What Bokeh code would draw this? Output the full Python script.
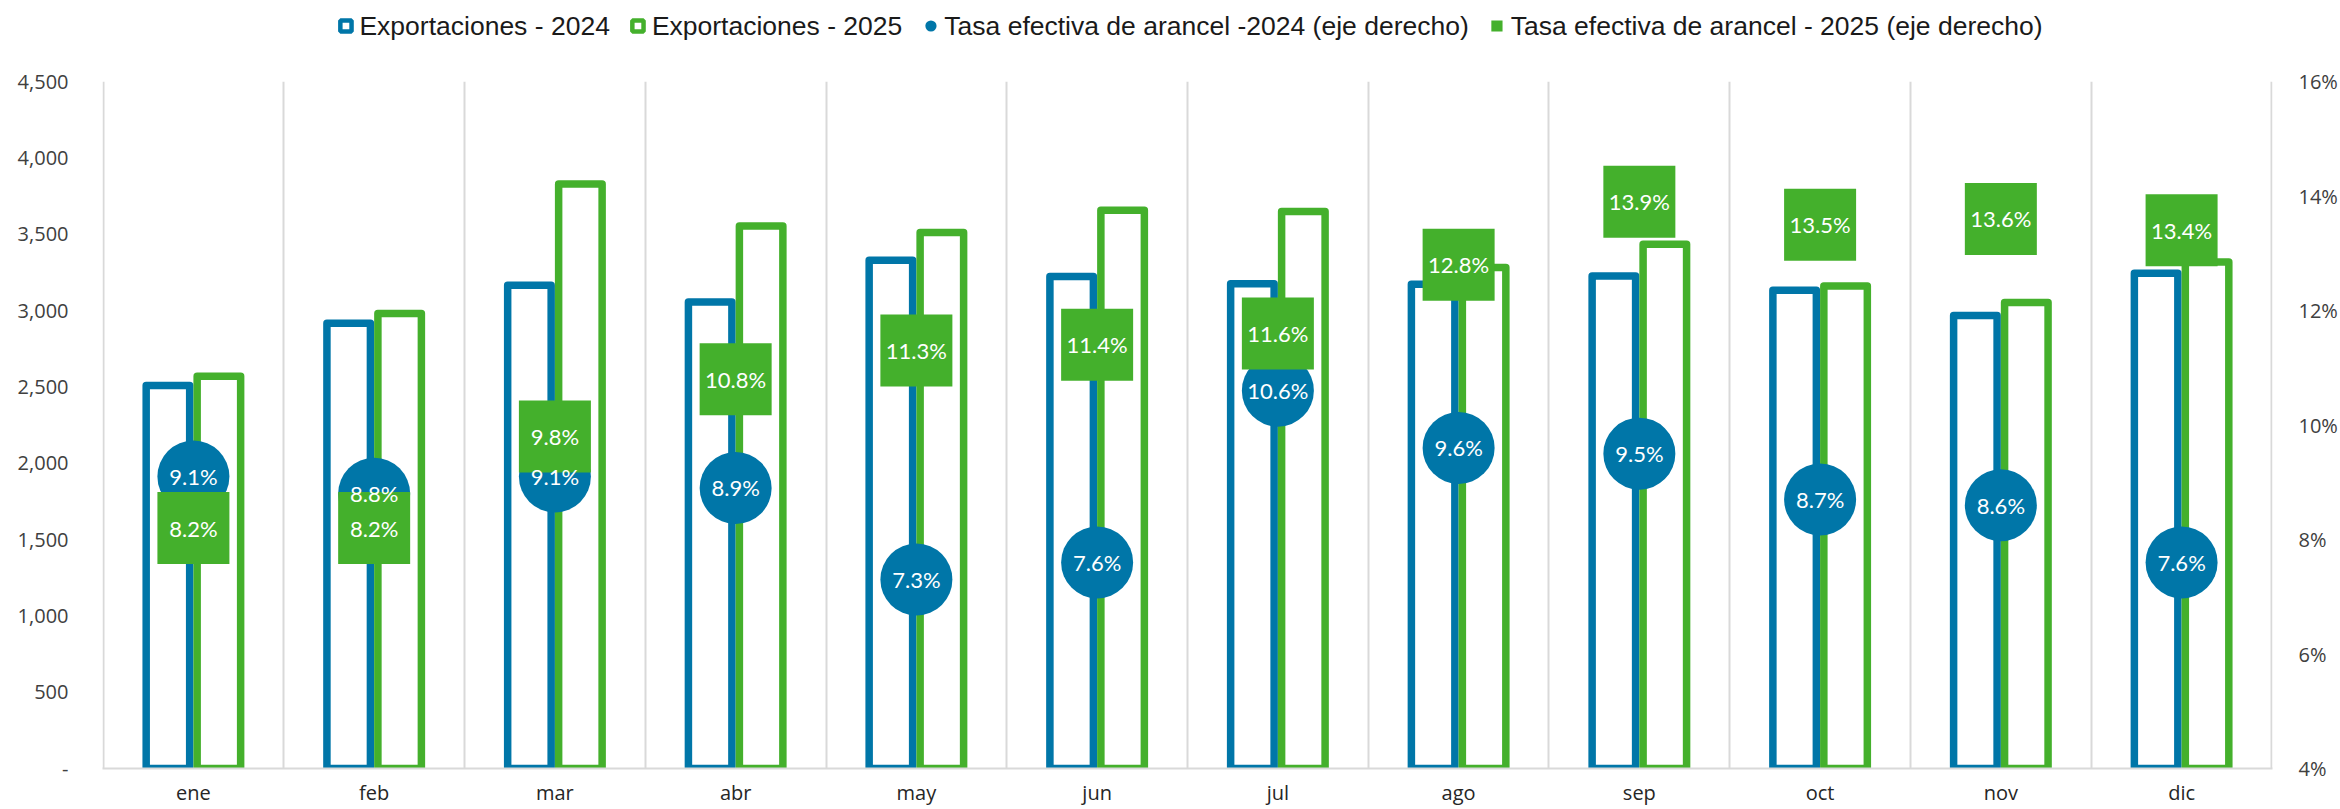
from bokeh.plotting import figure
from bokeh.layouts import column
from bokeh.models import (ColumnDataSource, Range1d, LinearAxis, FixedTicker,
                          NumeralTickFormatter, PrintfTickFormatter, Legend, LegendItem)
from bokeh.transform import dodge
from bokeh.core.properties import value
from bokeh.embed import file_html
from bokeh.resources import INLINE

# ---- data ----
months = ["ene", "feb", "mar", "abr", "may", "jun", "jul", "ago", "sep", "oct", "nov", "dic"]
exp_2024 = [2509, 2916, 3165, 3056, 3329, 3222, 3176, 3172, 3226, 3132, 2968, 3244]
exp_2025 = [2570, 2981, 3828, 3554, 3511, 3657, 3649, 3281, 3434, 3161, 3052, 3318]
tasa_2024 = [9.1, 8.8, 9.1, 8.9, 7.3, 7.6, 10.6, 9.6, 9.5, 8.7, 8.6, 7.6]
tasa_2025 = [8.2, 8.2, 9.8, 10.8, 11.3, 11.4, 11.6, 12.8, 13.9, 13.5, 13.6, 13.4]
left_ticks = [0, 500, 1000, 1500, 2000, 2500, 3000, 3500, 4000, 4500]
right_ticks = [4, 6, 8, 10, 12, 14, 16]
legend_labels = ["Exportaciones - 2024", "Exportaciones - 2025",
                 "Tasa efectiva de arancel -2024 (eje derecho)",
                 "Tasa efectiva de arancel - 2025 (eje derecho)"]

BLUE = "#0076A8"
GREEN = "#44B02C"
GRID = "#d9d9d9"
W = 2340
NAN = float("nan")

xs = [i + 0.5 for i in range(len(months))]
src = ColumnDataSource(dict(
    x=xs, month=months, e24=exp_2024, e25=exp_2025,
    t24=tasa_2024, t25=tasa_2025,
    l24=[f"{v:.1f}%" for v in tasa_2024],
    l25=[f"{v:.1f}%" for v in tasa_2025],
))

# ---------------- legend strip ----------------
lg = figure(width=W, height=51, x_range=Range1d(0, 1), y_range=Range1d(0, 1),
            output_backend="svg", toolbar_location=None,
            min_border_left=4, min_border_right=0, min_border_top=0, min_border_bottom=0)
lg.axis.visible = False
lg.grid.visible = False
lg.outline_line_color = None
# legend-only proxies (NaN points are not drawn; only their legend swatches show)
lr1 = lg.scatter(x=[NAN], y=[NAN], marker="square", fill_color="white", line_color=BLUE, line_width=4.5)
lr2 = lg.scatter(x=[NAN], y=[NAN], marker="square", fill_color="white", line_color=GREEN, line_width=4.5)
lr3 = lg.scatter(x=[NAN], y=[NAN], marker="circle", fill_color=BLUE, line_color=None)
lr4 = lg.scatter(x=[NAN], y=[NAN], marker="square", fill_color=GREEN, line_color=None)
legend = Legend(items=[LegendItem(label=legend_labels[0], renderers=[lr1]),
                       LegendItem(label=legend_labels[1], renderers=[lr2]),
                       LegendItem(label=legend_labels[2], renderers=[lr3]),
                       LegendItem(label=legend_labels[3], renderers=[lr4])],
                orientation="horizontal", location="center",
                glyph_width=28, glyph_height=28, label_height=28, label_standoff=0,
                spacing=14, padding=0, margin=0, border_line_color=None,
                background_fill_alpha=0,
                label_text_font="Liberation Sans", label_text_font_size="26.5px",
                label_text_color="#1a1a1a")
lg.add_layout(legend)

# ---------------- main chart ----------------
p = figure(width=W, height=758, x_range=Range1d(-0.003, len(months) + 0.003),
           y_range=Range1d(left_ticks[0], left_ticks[-1]),
           output_backend="svg", toolbar_location=None,
           min_border_left=102, min_border_right=68, min_border_top=30, min_border_bottom=41)
p.extra_y_ranges = {"rate": Range1d(right_ticks[0], right_ticks[-1])}
p.outline_line_color = None
p.background_fill_color = "white"
p.border_fill_color = "white"

# grid: vertical lines at category boundaries
p.xgrid.ticker = FixedTicker(ticks=list(range(len(months) + 1)))
p.xgrid.grid_line_color = GRID
p.xgrid.grid_line_width = 2
p.ygrid.grid_line_color = None

# bars
bw = 0.2406
off = 0.141
p.vbar(x=dodge("x", -off, range=p.x_range), top="e24", bottom=0, width=bw, source=src,
       fill_color="white", line_color=BLUE, line_width=7.5, line_join="round")
p.vbar(x=dodge("x", off, range=p.x_range), top="e25", bottom=0, width=bw, source=src,
       fill_color="white", line_color=GREEN, line_width=7.5, line_join="round")

# markers
p.scatter(x="x", y="t24", marker="circle", size=72, fill_color=BLUE, line_color=None,
          source=src, y_range_name="rate")
p.scatter(x="x", y="t25", marker="square", size=72, fill_color=GREEN, line_color=None,
          source=src, y_range_name="rate")

# labels
for col, ycol in (("l24", "t24"), ("l25", "t25")):
    p.text(x="x", y=ycol, text=col, source=src, y_range_name="rate",
           text_color="white", text_font=value("Lato"), text_font_size="22px",
           text_align="center", text_baseline="middle")

# axes
yl = p.yaxis[0]
yl.ticker = FixedTicker(ticks=left_ticks)
yl.formatter = NumeralTickFormatter(format="0,0")
yl.major_label_overrides = {0: "-"}
yl.major_label_standoff = 34

yr = LinearAxis(y_range_name="rate", ticker=FixedTicker(ticks=right_ticks),
                formatter=PrintfTickFormatter(format="%d%%"))
yr.major_label_standoff = 26
p.add_layout(yr, "right")

for ax in (yl, yr):
    ax.axis_line_color = None
    ax.major_tick_line_color = None
    ax.minor_tick_line_color = None
    ax.major_tick_out = 0
    ax.major_tick_in = 0
    ax.major_label_text_font = "Open Sans"
    ax.major_label_text_font_size = "20px"
    ax.major_label_text_color = "#404040"

xa = p.xaxis[0]
xa.ticker = FixedTicker(ticks=xs)
xa.major_label_overrides = {x: m for x, m in zip(xs, months)}
xa.axis_line_color = GRID
xa.axis_line_width = 2
xa.major_tick_line_color = None
xa.minor_tick_line_color = None
xa.major_tick_out = 0
xa.major_tick_in = 0
xa.major_label_text_font = "Open Sans"
xa.major_label_text_font_size = "20px"
xa.major_label_text_color = "#262626"
xa.major_label_standoff = 10

layout = column(lg, p, spacing=0)
open("out.html", "w").write(file_html(layout, INLINE))
